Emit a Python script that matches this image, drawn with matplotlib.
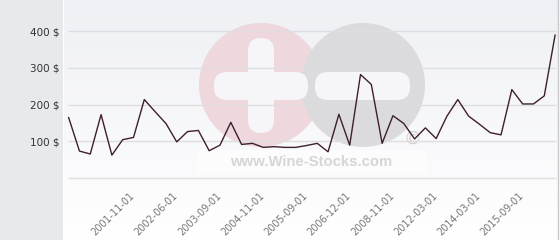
import numpy as np
import matplotlib
matplotlib.use("Agg")
import matplotlib.pyplot as plt
from matplotlib.patches import Circle, FancyBboxPatch, Rectangle
from matplotlib.colors import LinearSegmentedColormap
from matplotlib.transforms import ScaledTranslation

# prix (en $)
prices = [165, 74, 66, 173, 63, 105, 111, 214, 181, 149,
          99, 127, 130, 75, 90, 152, 92, 95, 84, 86,
          84, 84, 89, 95, 72, 174, 90, 282, 255, 95,
          170, 149, 107, 137, 108, 169, 214, 169, 147, 124,
          118, 241, 202, 202, 224, 389]
tick_labels = ["2001-11-01", "2002-06-01", "2003-09-01", "2004-11-01", "2005-09-01",
               "2006-12-01", "2008-11-01", "2012-03-01", "2014-03-01", "2015-09-01"]
y_ticks = [100, 200, 300, 400]

W, H = 560, 240
fig = plt.figure(figsize=(W / 100, H / 100), dpi=100)
fig.patch.set_facecolor("white")

# panneau gris a gauche
fig.patches.append(Rectangle((0, 0), 63 / W, 1, transform=fig.transFigure,
                             facecolor="#e6eaed", edgecolor="none", zorder=0))

# fond degrade de la zone du graphique
bg = fig.add_axes([64 / W, 0, 494 / W, 1], zorder=0)
cmap = LinearSegmentedColormap.from_list("bg", ["#eff0f5", "#ffffff"])
bg.imshow(np.linspace(0, 1, 100).reshape(-1, 1), aspect="auto", cmap=cmap,
          extent=[0, 1, 0, 1])
bg.axis("off")

# filigrane
wm = fig.add_axes([0, 0, 1, 1], zorder=1)
wm.set_xlim(0, W)
wm.set_ylim(H, 0)
wm.axis("off")
wm.patch.set_alpha(0)
wm.add_patch(Circle((261, 85), 62, facecolor="#eed7dd", edgecolor="none"))
wm.add_patch(Circle((363, 85), 62, facecolor="#dbdbdd", edgecolor="none"))
hole = "#f6f6f9"
wm.add_patch(FancyBboxPatch((248, 38), 26, 95, boxstyle="round,pad=0,rounding_size=13",
                            facecolor=hole, edgecolor="none"))
wm.add_patch(FancyBboxPatch((214, 72), 94, 28, boxstyle="round,pad=0,rounding_size=13",
                            facecolor=hole, edgecolor="none"))
wm.add_patch(FancyBboxPatch((315, 72), 95, 28, boxstyle="round,pad=0,rounding_size=13",
                            facecolor=hole, edgecolor="none"))
wm.add_patch(Rectangle((197, 150), 230, 23, facecolor="white", edgecolor="none", alpha=0.5))
wm.text(311, 162, "www.Wine-Stocks.com", ha="center", va="center", fontsize=10.7,
        fontweight="bold", family="Liberation Sans", color="#d6d6d6")
wm.text(413, 139, "©", ha="center", va="center", fontsize=13, color="#cfcfcf")
wm.plot([558, 558], [0, H], color="#c8c8c8", lw=1)

# graphique principal
ax = fig.add_axes([64 / W, 61.7 / H, 494 / W, 178.3 / H], zorder=2)
ax.patch.set_alpha(0)
x = np.arange(len(prices))
ax.set_xlim(-0.43, 45.27)
ax.set_ylim(0, 484.5)
for s in ax.spines.values():
    s.set_visible(False)

ax.hlines([0] + y_ticks, -0.05, 45.05, colors="#dedede", lw=1, clip_on=False, zorder=1)
ax.plot(x, prices, color="#3d1f2d", lw=1, zorder=3)

ax.set_yticks(y_ticks)
ax.set_yticklabels([f"{v} $" for v in y_ticks], fontsize=7.5, color="#333333")
ax.tick_params(axis="y", length=0, pad=3.5)

ax.set_xticks(np.arange(6, 46, 4))
ax.set_xticklabels(tick_labels, rotation=45, ha="right", va="top",
                   rotation_mode="anchor", fontsize=7, color="#777777")
ax.tick_params(axis="x", length=0, pad=9)
shift = ScaledTranslation(-4 / 100, 0, fig.dpi_scale_trans)
for lbl in ax.get_xticklabels():
    lbl.set_transform(lbl.get_transform() + shift)

fig.savefig("out.png", dpi=100)
